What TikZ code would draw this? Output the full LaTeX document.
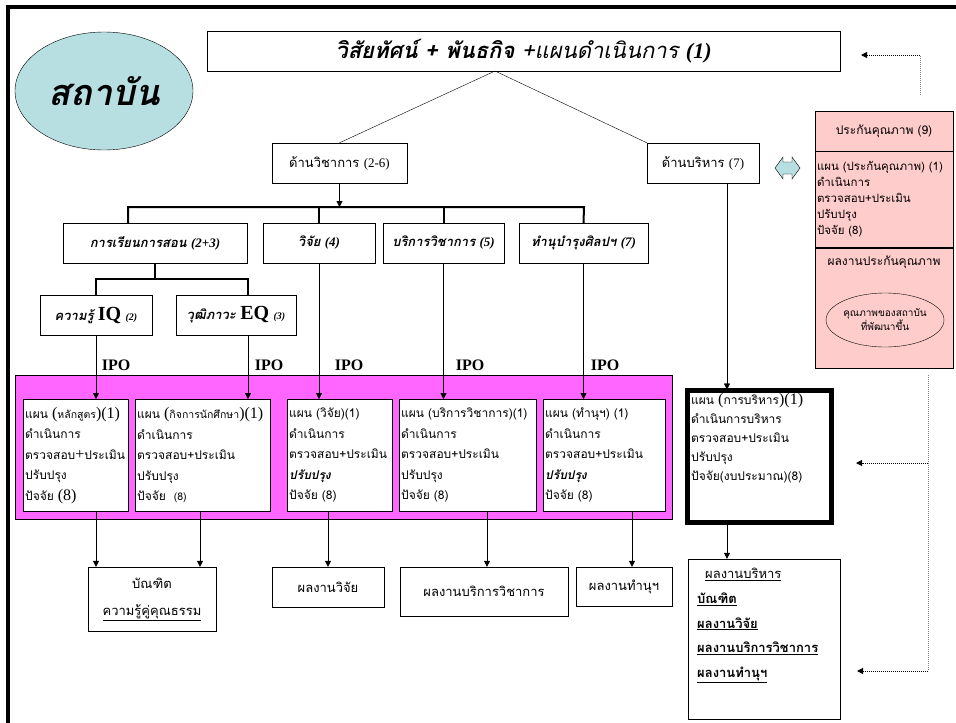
\documentclass[tikz,border=0pt]{standalone}
\usepackage{fontspec}
\setmainfont{Liberation Serif}
\newfontfamily\thai[Script=Thai]{Loma}
\usepackage{tikz}
\usetikzlibrary{arrows.meta, positioning, shapes.geometric}
\definecolor{instcyan}{HTML}{B7DFE2}
\definecolor{ipomagenta}{HTML}{FF66FF}
\definecolor{qapink}{HTML}{FFCCCC}
\newcommand{\bigser}[1]{{\rmfamily\mdseries\upshape\fontsize{16}{18}\selectfont #1}}
\newcommand{\smallthai}[1]{{\fontsize{10.5}{12}\selectfont #1}}
\tikzset{%
	every box/.style={
		draw,
		rectangle,
		fill=white,
		inner sep=2pt,
		font=\thai\fontsize{13}{15}\selectfont
	},
	head box/.style={
		every box,
		font=\thai\fontsize{13}{15}\selectfont\bfseries\itshape
	},
	plan box/.style={
		every box,
		anchor=north west,
		align=left,
		minimum height=112pt,
		font=\thai\fontsize{12}{20.5}\selectfont
	},
	wh/.style 2 args={minimum width=#1pt, minimum height=#2pt},
}

\begin{document}
\begin{tikzpicture}[
			x=1pt, y=-1pt,
			flow/.style={-{Triangle[length=6pt, width=6pt]}},
			bus/.style={line width=2pt},
			feedback/.style={densely dotted, line width=1pt, -{Triangle[length=6pt, width=6pt]}},
			ipo/.style={font=\bfseries\fontsize{16}{18}\selectfont, inner sep=0pt}
			]
			\useasboundingbox (0,0) rectangle (956,723);
			
			% frame
			\draw[line width=3.5pt] (8,723) -- (8,7) -- (956,7);
			
			% top level
			\node[ellipse, draw, fill=instcyan, wh={178}{118}, font=\thai\fontsize{36}{40}\selectfont\bfseries\itshape] (inst) at (104,91) {สถาบัน};
			\node[every box, wh={633}{40}, font=\thai\fontsize{22}{26}\selectfont\itshape] (vision) at (523.5,51) {\bfseries วิสัยทัศน์ + พันธกิจ \mdseries+แผนดำเนินการ \rmfamily\bfseries(1)};
			\node[every box, wh={135}{40}] (acad) at (339.5,163) {ด้านวิชาการ \rmfamily(2-6)};
			\node[every box, wh={112}{40}] (admin) at (703,163) {ด้านบริหาร \rmfamily(7)};
			\coordinate (apex) at (495,71);
			\draw (apex) -- (acad.north);
			\draw (apex) -- (admin.north west);
			\draw[fill=instcyan] (775,168) -- (783,157) -- (783,162) -- (792,162) -- (792,157) -- (800,168)
				-- (792,179) -- (792,174) -- (783,174) -- (783,179) -- cycle;
			
			% academic branches
			\node[head box, wh={184}{40}] (teach) at (155,243) {การเรียนการสอน \rmfamily(2+3)};
			\node[head box, wh={112}{40}] (research) at (319,243) {วิจัย \rmfamily(4)};
			\node[head box, wh={121}{40}] (service) at (443.5,243) {บริการวิชาการ \rmfamily(5)};
			\node[head box, wh={129}{40}] (tam) at (583.5,243) {ทำนุบำรุงศิลปฯ \rmfamily(7)};
			\coordinate (busL) at (128,207);
			\coordinate (busR) at (584,207);
			\draw[flow] (acad.south) -- (acad.south |- busL);
			\draw[bus] (busL |- teach.north) -- (busL) -- (busR) -- (tam.north);
			\draw[bus] (research.north) -- (research.north |- busL);
			\draw[bus] (service.north) -- (service.north |- busL);
			
			\node[head box, wh={112}{40}] (iq) at (96,315) {ความรู้ {\rmfamily\upshape\fontsize{20}{22}\selectfont IQ} {\rmfamily\fontsize{10}{12}\selectfont(2)}};
			\node[head box, wh={120}{40}] (eq) at (236,315) {วุฒิภาวะ {\rmfamily\upshape\fontsize{20}{22}\selectfont EQ} {\rmfamily\fontsize{10}{12}\selectfont(3)}};
			\coordinate (subL) at (96,279);
			\coordinate (subR) at (248,279);
			\draw[bus] (teach.south) -- (teach.south |- subL);
			\draw[bus] (iq.north) -- (subL) -- (subR) -- (subR |- eq.north);
			
			% IPO band
			\node[draw, fill=ipomagenta, wh={657}{144}] (band) at (343.5,447) {};
			\node[plan box, text width=101pt] (plan1) at (23,399) {แผน~\bigser{(}\smallthai{หลักสูตร}\bigser{)(1)}\\ดำเนินการ\\ตรวจสอบ\bigser{+}ประเมิน\\ปรับปรุง\\ปัจจัย \bigser{(8)}};
			\node[plan box, text width=131pt] (plan2) at (135,399) {แผน~\bigser{(}\smallthai{กิจการนักศึกษา}\bigser{)(1)}\\ดำเนินการ\\ตรวจสอบ+ประเมิน\\ปรับปรุง\\ปัจจัย~~\smallthai{(8)}};
			\node[plan box, text width=101pt] (plan3) at (287,399) {แผน (วิจัย)(1)\\ดำเนินการ\\ตรวจสอบ+ประเมิน\\{\bfseries\itshape ปรับปรุง}\\ปัจจัย (8)};
			\node[plan box, text width=133pt] (plan4) at (399,399) {แผน (บริการวิชาการ)(1)\\ดำเนินการ\\ตรวจสอบ+ประเมิน\\ปรับปรุง\\ปัจจัย (8)};
			\node[plan box, text width=118pt] (plan5) at (543,399) {แผน (ทำนุฯ) (1)\\ดำเนินการ\\ตรวจสอบ+ประเมิน\\{\bfseries\itshape ปรับปรุง}\\ปัจจัย (8)};
			\node[draw, line width=5pt, fill=white, wh={144}{132}] (adplan) at (759.5,456.5) {};
			\node[anchor=north west, align=left, inner sep=0pt, font=\thai\fontsize{12}{19}\selectfont] (adtext) at (691,393) {แผน \bigser{(}การบริหาร\bigser{)(1)}\\ดำเนินการบริหาร\\ตรวจสอบ+ประเมิน\\ปรับปรุง\\ปัจจัย(งบประมาณ)(8)};
			
			\coordinate (c6) at (727,0);
			\draw[flow] (iq.south) -- (iq.south |- plan1.north);
			\draw[flow] (eq.south -| subR) -- (subR |- plan2.north);
			\draw[flow] (research.south) -- (research.south |- plan3.north);
			\draw[flow] (service.south) -- (service.south |- plan4.north);
			\draw[flow] (tam.south) -- (tam.south |- plan5.north);
			\draw[flow, shorten >=-1.5pt] (c6 |- admin.south) -- (c6 |- adplan.north);
			\foreach \x/\n in {116/1, 269/2, 349/3, 470/4, 605/5}
				\node[ipo] (ipo\n) at (\x,365) {IPO};
			
			% outputs
			\node[every box, wh={128}{64}, align=center, font=\thai\fontsize{13}{27}\selectfont] (grad) at (152,599) {บัณฑิต\\\underline{ความรู้คู่คุณธรรม}};
			\node[every box, wh={112}{40}] (resout) at (328,587) {ผลงานวิจัย};
			\node[every box, wh={168}{49}] (servout) at (484,591.5) {ผลงานบริการวิชาการ};
			\node[every box, wh={96}{39}] (tamout) at (624,586.5) {ผลงานทำนุฯ};
			\node[every box, wh={152}{160}] (adout) at (764,639) {};
			\node[anchor=north west, align=left, inner sep=0pt, font=\thai\fontsize{13}{24.7}\selectfont] (adouttext) at (697,568) {\hspace{8pt}\underline{ผลงานบริหาร}\\{\bfseries\underline{บัณฑิต}}\\{\bfseries\underline{ผลงานวิจัย}}\\{\bfseries\underline{ผลงานบริการวิชาการ}}\\{\bfseries\underline{ผลงานทำนุฯ}}};
			\coordinate (d1) at (96,0);
			\coordinate (d2) at (200,0);
			\coordinate (d3) at (328,0);
			\coordinate (d4) at (487,0);
			\coordinate (d5) at (632,0);
			\draw[flow] (d1 |- plan1.south) -- (d1 |- grad.north);
			\draw[flow] (d2 |- plan2.south) -- (d2 |- grad.north);
			\draw[flow] (d3 |- plan3.south) -- (d3 |- resout.north);
			\draw[flow] (d4 |- plan4.south) -- (d4 |- servout.north);
			\draw[flow] (d5 |- plan5.south) -- (d5 |- tamout.north);
			\draw[flow] (c6 |- adplan.south) -- (c6 |- adout.north);
			
			% quality assurance
			\node[every box, fill=qapink, wh={138}{40}, font=\thai\fontsize{12}{14}\selectfont] (qahead) at (884,131) {ประกันคุณภาพ (9)};
			\node[every box, fill=qapink, anchor=north, text width=134pt, minimum height=96pt, align=left, font=\thai\fontsize{11.5}{16}\selectfont] (qamid) at (qahead.south) {แผน (ประกันคุณภาพ) (1)\\ดำเนินการ\\ตรวจสอบ+ประเมิน\\ปรับปรุง\\ปัจจัย (8)};
			\node[every box, fill=qapink, anchor=north, wh={138}{120}] (qalow) at (qamid.south) {};
			\node[font=\thai\fontsize{12}{14}\selectfont] (qaout) at (884,262) {ผลงานประกันคุณภาพ};
			\node[ellipse, draw, wh={104}{54}, align=center, inner sep=0pt, font=\thai\fontsize{10}{14}\selectfont] (qaell) at (885,320) {คุณภาพของสถาบัน\\ที่พัฒนาขึ้น};
			
			% feedback
			\coordinate (fbA) at (920,95);
			\coordinate (fbB) at (920,55);
			\coordinate (fbTip) at (861,55);
			\coordinate (fbC) at (928,375);
			\coordinate (fbD) at (928,671);
			\coordinate (fbE) at (928,463);
			\coordinate (tipPlan) at (856,463);
			\coordinate (tipOut) at (857,671);
			\draw[densely dotted, gray, line width=1pt] (fbA) -- (fbB);
			\draw[feedback] (fbB) -- (fbTip);
			\draw[densely dotted, gray, line width=1pt] (fbC) -- (fbD);
			\draw[feedback] (fbE) -- (tipPlan);
			\draw[feedback] (fbD) -- (tipOut);
			
		\end{tikzpicture}
\end{document}
